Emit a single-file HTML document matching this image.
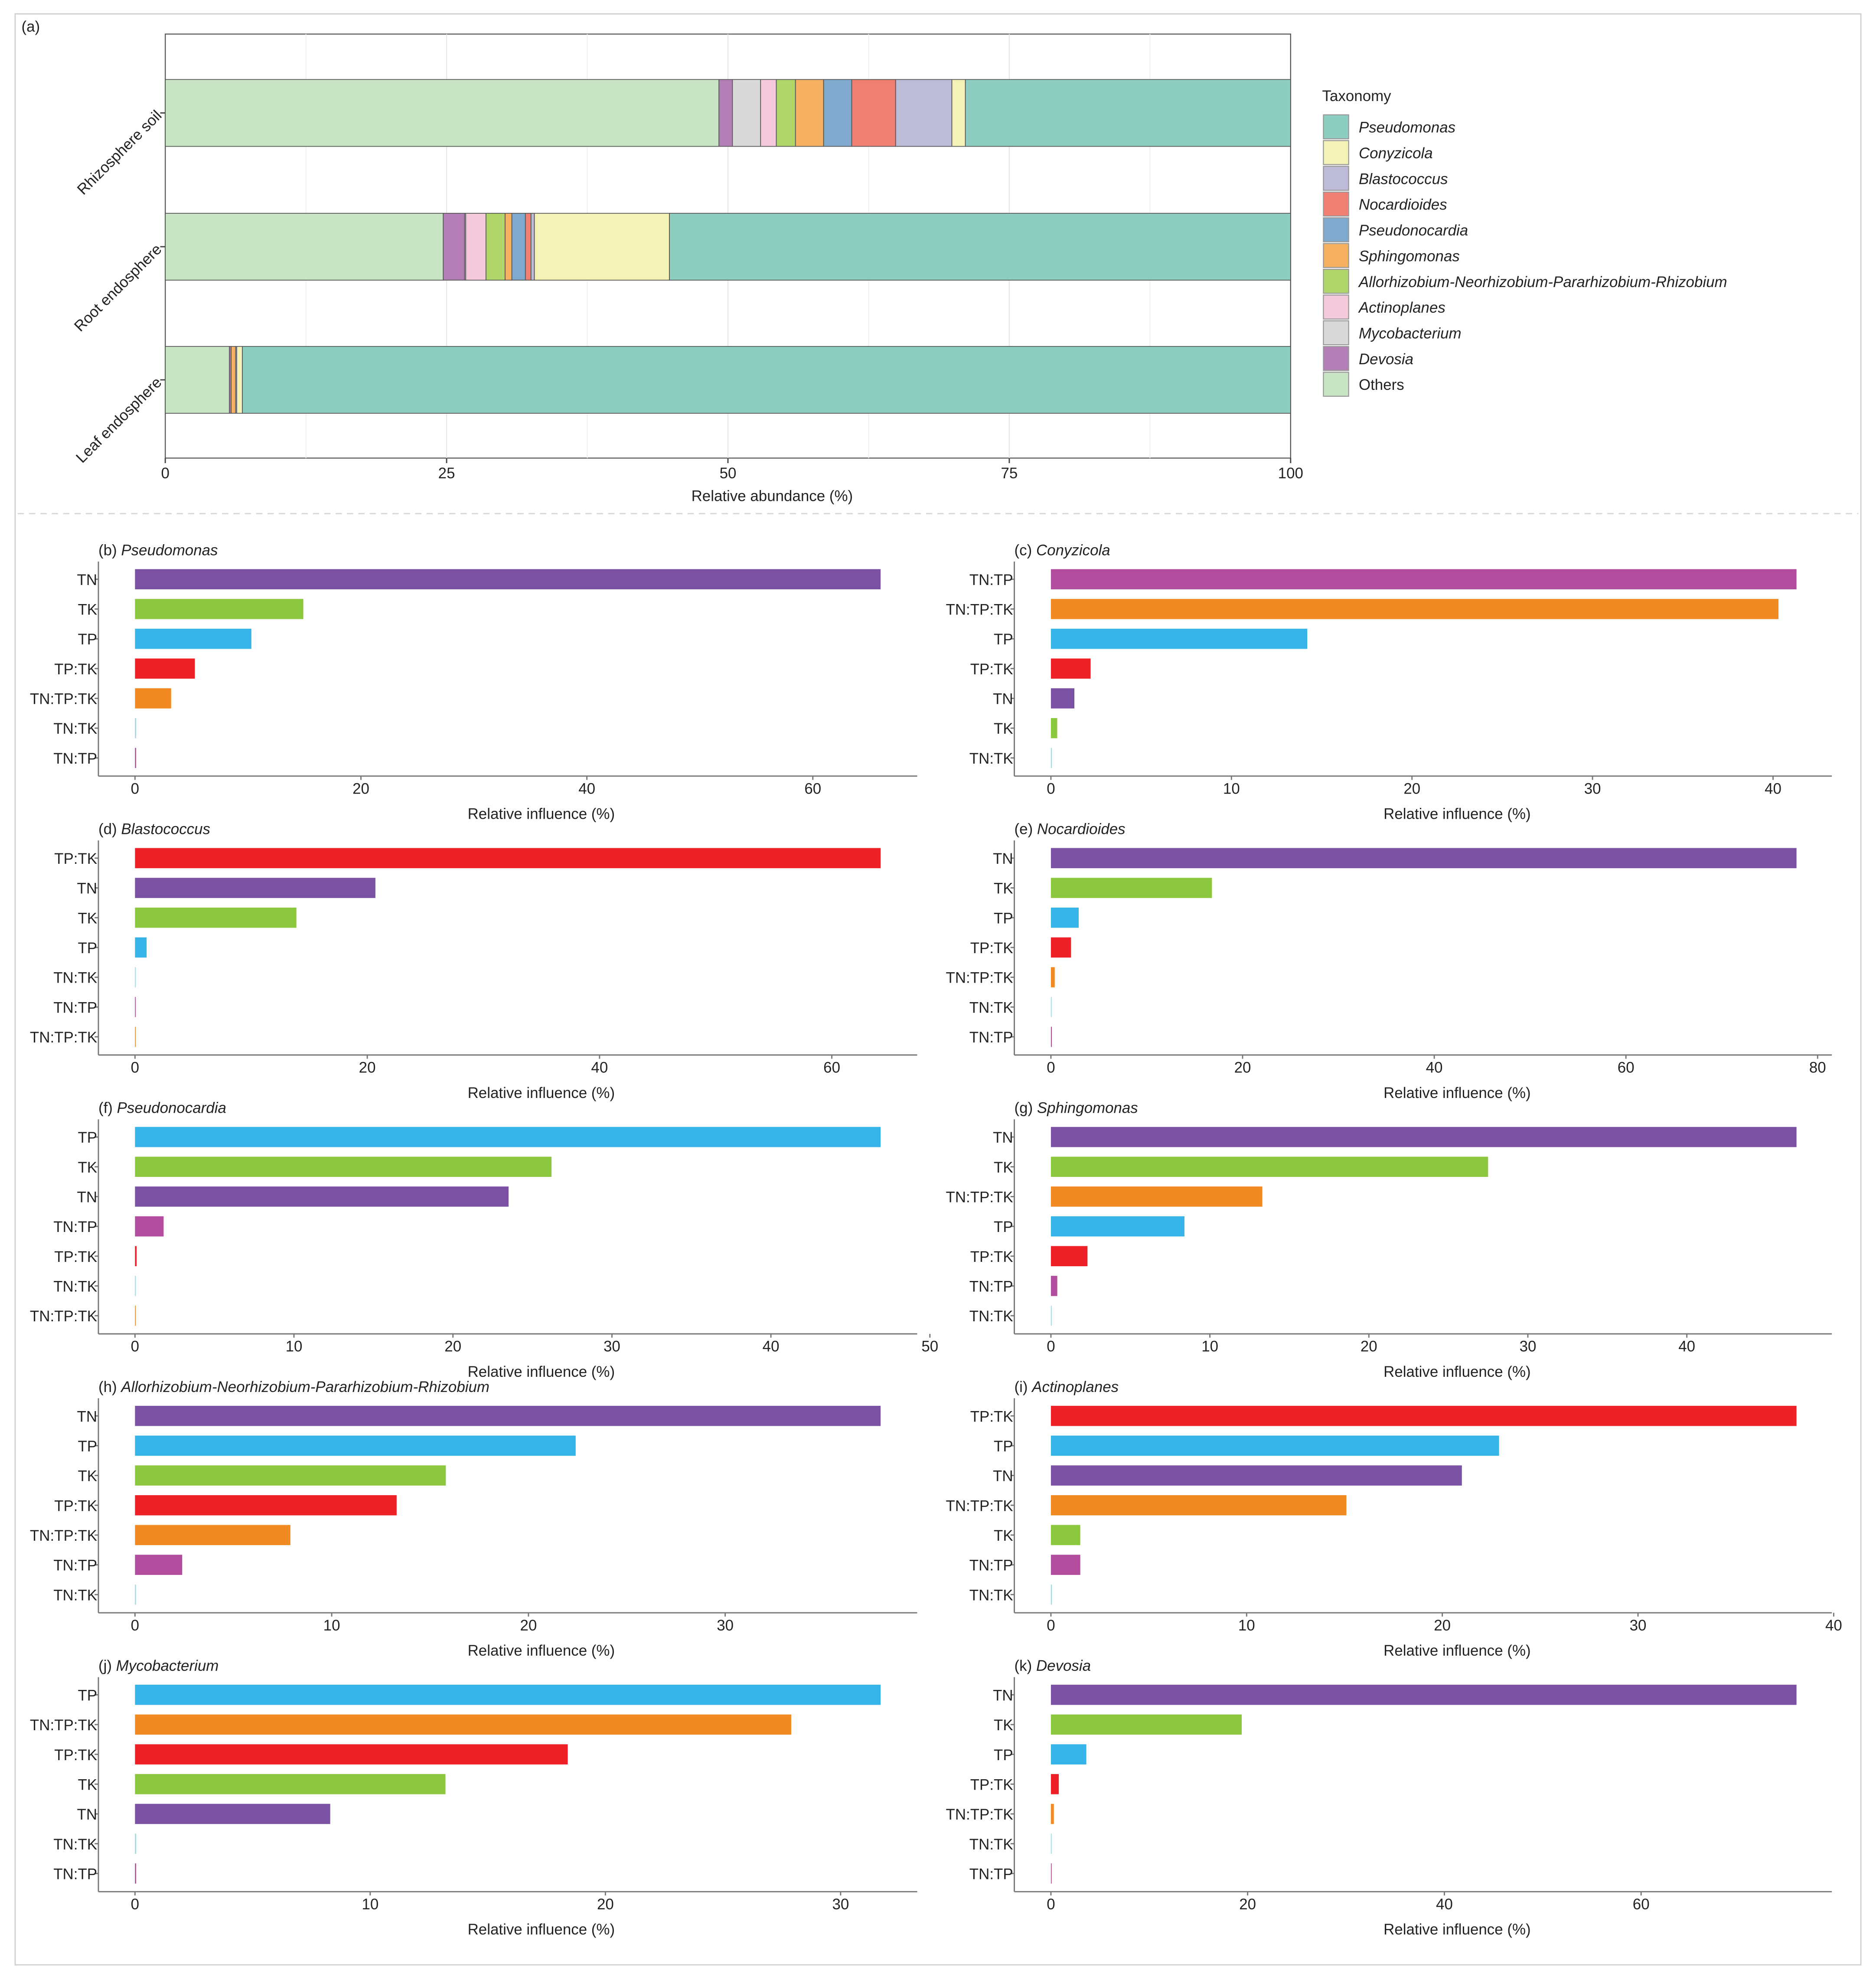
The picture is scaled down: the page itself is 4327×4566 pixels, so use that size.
<!DOCTYPE html>
<html><head><meta charset="utf-8"><style>
html,body{margin:0;padding:0;background:#fff;}
svg{display:block;font-family:"Liberation Sans",Arial,sans-serif;}
</style></head><body>
<svg id="fig" width="4327" height="4566" viewBox="0 0 1487 1569" preserveAspectRatio="none" xmlns="http://www.w3.org/2000/svg">
<rect x="12" y="11" width="1463" height="1546" fill="#fff" stroke="#d0d0d0" stroke-width="1"/>
<line x1="14" y1="407" x2="1473" y2="407" stroke="#d8d8d8" stroke-dasharray="5,4"/>
<g id="pa"></g>
<g id="pb"></g>
</svg>
<script>
const NS="http://www.w3.org/2000/svg";
function mk(tag,attrs,parent,text){const e=document.createElementNS(NS,tag);for(const k in attrs)e.setAttribute(k,attrs[k]);if(text!==undefined)e.textContent=text;parent.appendChild(e);return e;}

// ---------- Panel (a) data ----------
const taxa=["Others","Devosia","Mycobacterium","Actinoplanes","Allorhizobium-Neorhizobium-Pararhizobium-Rhizobium","Sphingomonas","Pseudonocardia","Nocardioides","Blastococcus","Conyzicola","Pseudomonas"];
const taxaColors=["#c9e4c4","#b47eb6","#d9d9d9","#f5c9dc","#b0d56a","#f6b062","#80aacd","#f07f72","#bdbbd8","#f5f2b8","#8dcec0"];
const compartments=["Rhizosphere soil","Root endosphere","Leaf endosphere"];
const rhizoValues=[49.2,1.2,2.5,1.4,1.7,2.5,2.5,3.9,5.0,1.2,28.9];
const rootValues=[24.7,1.9,0.1,1.8,1.7,0.6,1.2,0.5,0.3,12.0,55.2];
const leafValues=[5.7,0.15,0.0,0.0,0.0,0.4,0.0,0.0,0.1,0.5,93.15];
const abundTicks=[0,25,50,75,100];
const legendOrder=["Pseudomonas","Conyzicola","Blastococcus","Nocardioides","Pseudonocardia","Sphingomonas","Allorhizobium-Neorhizobium-Pararhizobium-Rhizobium","Actinoplanes","Mycobacterium","Devosia","Others"];

(function(){
 const g=document.getElementById('pa');
 const L=131,R=1023,T=27,B=363;
 const xs=v=>L+(R-L)*v/100;
 mk('text',{x:17,y:25,'font-size':12,fill:'#222',},g,'(a)');
 mk('rect',{x:L,y:T,width:R-L,height:B-T,fill:'#fff',stroke:'#555','stroke-width':0.8,},g);
 for(let v=12.5;v<100;v+=12.5){
   const gl=mk('line',{x1:xs(v),x2:xs(v),y1:T,y2:B,stroke:v%25===0?'#e6e6e6':'#f1f1f1','stroke-width':0.8},g);
   
 }
 const data=[rhizoValues,rootValues,leafValues];
 const centers=[89.5,195.5,301];
 const bh=53;
 data.forEach((vals,ci)=>{
   let acc=0;
   vals.forEach((v,ti)=>{
     if(v<=0){return;}
     const r=mk('rect',{x:xs(acc),y:centers[ci]-bh/2,width:xs(acc+v)-xs(acc),height:bh,fill:taxaColors[ti],stroke:'#555','stroke-width':0.6},g);
     
     
     acc+=v;
   });
   const tk=mk('line',{x1:L-4,x2:L,y1:centers[ci],y2:centers[ci],stroke:'#444'},g);
   
   const t=mk('text',{x:L-5,y:centers[ci]+4,'font-size':12,fill:'#222','text-anchor':'end',transform:`rotate(-45 ${L-5} ${centers[ci]})`},g,compartments[ci]);
   
 });
 abundTicks.forEach(v=>{
   const tk=mk('line',{x1:xs(v),x2:xs(v),y1:B,y2:B+4,stroke:'#444'},g);
   
   const t=mk('text',{x:xs(v),y:B+16,'font-size':12,fill:'#222','text-anchor':'middle'},g,String(v));
   
 });
 const xt=mk('text',{x:612,y:397,'font-size':12,fill:'#222','text-anchor':'middle'},g,'Relative abundance (%)');
 
 const lt=mk('text',{x:1048,y:80,'font-size':12,fill:'#222'},g,'Taxonomy');
 
 legendOrder.forEach((name,i)=>{
   const y=91+i*20.4;
   const col=taxaColors[taxa.indexOf(name)];
   const r=mk('rect',{x:1049,y:y,width:20,height:19,fill:col,stroke:'#999','stroke-width':0.8},g);
   
   const t=mk('text',{x:1077,y:y+14,'font-size':12,fill:'#222','font-style':name==='Others'?'normal':'italic'},g,name);
   
 });
})();

// ---------- Influence panels data ----------
const catColors={"TN":"#7b52a3","TK":"#8dc63f","TP":"#36b4e8","TP:TK":"#ed2127","TN:TP:TK":"#f28a23","TN:TP":"#b24d9e","TN:TK":"#9fd8e0"};
const bCats=["TN","TK","TP","TP:TK","TN:TP:TK","TN:TK","TN:TP"];
const bVals=[66.0,14.9,10.3,5.3,3.2,0.1,0.1];
const bTicks=[0,20,40,60];
const cCats=["TN:TP","TN:TP:TK","TP","TP:TK","TN","TK","TN:TK"];
const cVals=[41.3,40.3,14.2,2.2,1.3,0.35,0.05];
const cTicks=[0,10,20,30,40];
const dCats=["TP:TK","TN","TK","TP","TN:TK","TN:TP","TN:TP:TK"];
const dVals=[64.2,20.7,13.9,1.0,0.05,0.05,0.05];
const dTicks=[0,20,40,60];
const eCats=["TN","TK","TP","TP:TK","TN:TP:TK","TN:TK","TN:TP"];
const eVals=[77.8,16.8,2.9,2.1,0.4,0.05,0.1];
const eTicks=[0,20,40,60,80];
const fCats=["TP","TK","TN","TN:TP","TP:TK","TN:TK","TN:TP:TK"];
const fVals=[46.9,26.2,23.5,1.8,0.1,0.05,0.05];
const fTicks=[0,10,20,30,40,50];
const gCats=["TN","TK","TN:TP:TK","TP","TP:TK","TN:TP","TN:TK"];
const gVals=[46.9,27.5,13.3,8.4,2.3,0.4,0.05];
const gTicks=[0,10,20,30,40];
const hCats=["TN","TP","TK","TP:TK","TN:TP:TK","TN:TP","TN:TK"];
const hVals=[37.9,22.4,15.8,13.3,7.9,2.4,0.05];
const hTicks=[0,10,20,30];
const iCats=["TP:TK","TP","TN","TN:TP:TK","TK","TN:TP","TN:TK"];
const iVals=[38.1,22.9,21.0,15.1,1.5,1.5,0.05];
const iTicks=[0,10,20,30,40];
const jCats=["TP","TN:TP:TK","TP:TK","TK","TN","TN:TK","TN:TP"];
const jVals=[31.7,27.9,18.4,13.2,8.3,0.05,0.05];
const jTicks=[0,10,20,30];
const kCats=["TN","TK","TP","TP:TK","TN:TP:TK","TN:TK","TN:TP"];
const kVals=[75.8,19.4,3.6,0.8,0.3,0.05,0.05];
const kTicks=[0,20,40,60];

const panels=[
 {id:'b',name:'Pseudomonas',cats:bCats,vals:bVals,ticks:bTicks,col:0,row:0},
 {id:'c',name:'Conyzicola',cats:cCats,vals:cVals,ticks:cTicks,col:1,row:0},
 {id:'d',name:'Blastococcus',cats:dCats,vals:dVals,ticks:dTicks,col:0,row:1},
 {id:'e',name:'Nocardioides',cats:eCats,vals:eVals,ticks:eTicks,col:1,row:1},
 {id:'f',name:'Pseudonocardia',cats:fCats,vals:fVals,ticks:fTicks,col:0,row:2},
 {id:'g',name:'Sphingomonas',cats:gCats,vals:gVals,ticks:gTicks,col:1,row:2},
 {id:'h',name:'Allorhizobium-Neorhizobium-Pararhizobium-Rhizobium',cats:hCats,vals:hVals,ticks:hTicks,col:0,row:3},
 {id:'i',name:'Actinoplanes',cats:iCats,vals:iVals,ticks:iTicks,col:1,row:3},
 {id:'j',name:'Mycobacterium',cats:jCats,vals:jVals,ticks:jTicks,col:0,row:4},
 {id:'k',name:'Devosia',cats:kCats,vals:kVals,ticks:kTicks,col:1,row:4}
];

(function(){
 const root=document.getElementById('pb');
 panels.forEach(p=>{
   const g=mk('g',{},root);
   
   const top=436+p.row*221;
   const axL=p.col===0?78:804, axR=p.col===0?727:1452;
   const x0=p.col===0?107:833, xEnd=p.col===0?698:1424;
   const maxV=Math.max(...p.vals);
   const xs=v=>x0+(xEnd-x0)*v/maxV;
   const tt=mk('text',{x:axL,y:top+4,'font-size':12,fill:'#222'},g);
   
   mk('tspan',{},tt,'('+p.id+') ');
   mk('tspan',{'font-style':'italic'},tt,p.name);
   const bottom=top+179;
   const la=mk('line',{x1:axL,x2:axL,y1:top+9,y2:bottom,stroke:'#777','stroke-width':1},g);
   
   const ba=mk('line',{x1:axL,x2:axR,y1:bottom,y2:bottom,stroke:'#777','stroke-width':1},g);
   
   p.cats.forEach((c,i)=>{
     const cy=top+23+i*23.6;
     const w=Math.max(xs(p.vals[i])-x0,0.6);
     const r=mk('rect',{x:x0,y:cy-8,width:w,height:16,fill:catColors[c]},g);
     
     
     const tk=mk('line',{x1:axL-3,x2:axL,y1:cy,y2:cy,stroke:'#777'},g);
     
     const t=mk('text',{x:axL-1,y:cy+4.5,'font-size':12,fill:'#222','text-anchor':'end'},g,c);
     
   });
   p.ticks.forEach(v=>{
     const px=xs(v*1);
     const tk=mk('line',{x1:px,x2:px,y1:bottom,y2:bottom+3,stroke:'#777'},g);
     
     const t=mk('text',{x:px,y:bottom+14,'font-size':12,fill:'#222','text-anchor':'middle'},g,String(v));
     
   });
   const at=mk('text',{x:p.col===0?429:1155,y:bottom+34,'font-size':12,fill:'#222','text-anchor':'middle'},g,'Relative influence (%)');
   
 });
})();
</script>
</body></html>
